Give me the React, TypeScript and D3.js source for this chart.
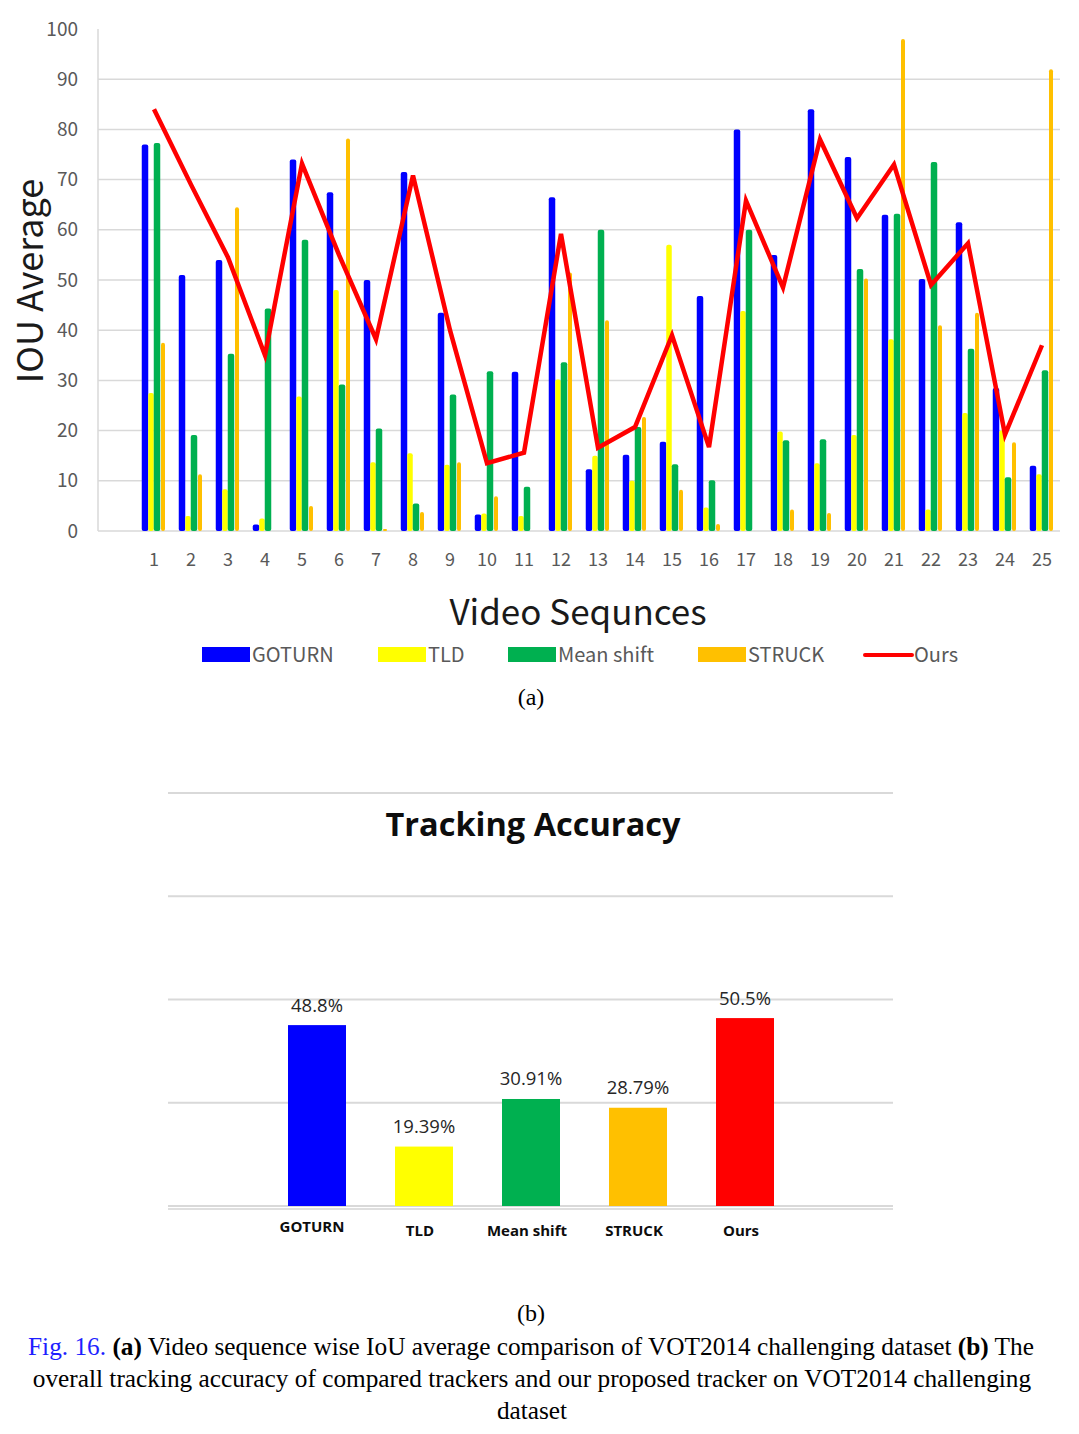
import React from "react";
import * as d3 from "d3";

// (a) IoU average per video sequence
const sequences = ["1", "2", "3", "4", "5", "6", "7", "8", "9", "10", "11", "12", "13", "14", "15", "16", "17", "18", "19", "20", "21", "22", "23", "24", "25"];
const goturn = [77, 51, 54, 1.3, 74, 67.5, 50, 71.5, 43.5, 3.3, 31.7, 66.5, 12.3, 15.2, 17.8, 46.8, 80, 55, 84, 74.5, 63, 50.2, 61.5, 28.5, 13];
const tld = [27.5, 3, 8.3, 2.5, 26.8, 48, 13.7, 15.5, 13.2, 3.5, 3, 30.2, 15, 10, 57, 4.7, 43.8, 19.8, 13.5, 19.1, 38.2, 4.3, 23.5, 20, 11.3];
const meanShift = [77.3, 19.1, 35.3, 44.3, 58, 29.2, 20.4, 5.5, 27.2, 31.8, 8.8, 33.6, 60, 20.7, 13.3, 10.1, 60, 18.1, 18.3, 52.2, 63.2, 73.5, 36.3, 10.7, 32];
const struck = [37.5, 11.3, 64.5, 0, 5, 78.2, 0.4, 3.8, 13.7, 6.9, 0, 51.5, 42, 22.7, 8.2, 1.4, 0, 4.3, 3.6, 50.3, 98, 41, 43.5, 17.7, 92];
const ours = [84, 69, 54.5, 35, 73.2, 55, 38.2, 70.8, 40, 13.5, 15.6, 59.2, 16.6, 20.7, 39, 16.7, 65.8, 48.5, 78, 62.3, 73, 49, 57.3, 19.2, 37];
const yTicks = [0, 10, 20, 30, 40, 50, 60, 70, 80, 90, 100];

// (b) overall tracking accuracy
const trackers = ["GOTURN", "TLD", "Mean shift", "STRUCK", "Ours"];
const accuracy = [48.8, 19.39, 30.91, 28.79, 50.5];
const accuracyLabels = ["48.8%", "19.39%", "30.91%", "28.79%", "50.5%"];
const accuracyGrid = [5, 30, 55, 80, 105];

const barSeries = [
  { name: "GOTURN", values: goturn, color: "#0000ff", width: 6.5 },
  { name: "TLD", values: tld, color: "#ffff00", width: 5.5 },
  { name: "Mean shift", values: meanShift, color: "#00b050", width: 6.5 },
  { name: "STRUCK", values: struck, color: "#ffc000", width: 4 },
];
const trackerColors = ["#0000ff", "#ffff00", "#00b050", "#ffc000", "#ff0000"];

const topFont = "'Noto Sans CJK KR', 'Noto Sans', sans-serif";
const bottomFont = "'Open Sans', 'Noto Sans', sans-serif";
const serif = "'Liberation Serif', 'DejaVu Serif', serif";

const TopChart = () => {
  const x = d3.scaleBand().domain(sequences).range([135.5, 1060.5]);
  const inner = d3.scaleBand().domain(barSeries.map((s) => s.name)).range([-12, 12]);
  const y = d3.scaleLinear().domain([0, 100]).range([531, 29]);
  const cx = (s: string) => (x(s) as number) + x.bandwidth() / 2;

  const line = d3
    .line<number>()
    .x((_, i) => cx(sequences[i]))
    .y((d) => y(d));

  const legend = [
    { label: "GOTURN", color: "#0000ff", x: 202 },
    { label: "TLD", color: "#ffff00", x: 378 },
    { label: "Mean shift", color: "#00b050", x: 508 },
    { label: "STRUCK", color: "#ffc000", x: 698 },
  ];

  return (
    <g>
      {/* grid */}
      {yTicks.filter((t) => t > 0 && t < 100).map((t) => (
        <line key={t} x1={98} x2={1060} y1={y(t)} y2={y(t)} stroke="#d9d9d9" strokeWidth={1.5} />
      ))}
      <line x1={98} x2={98} y1={y(100)} y2={y(0)} stroke="#d9d9d9" strokeWidth={1.5} />
      <line x1={98} x2={1060} y1={y(0)} y2={y(0)} stroke="#d9d9d9" strokeWidth={1.5} />

      {yTicks.map((t) => (
        <text key={t} x={78} y={y(t)} dy="0.35em" textAnchor="end" fontSize={19} fill="#595959" fontFamily={topFont}>
          {t}
        </text>
      ))}
      {sequences.map((s) => (
        <text key={s} x={cx(s)} y={560} dy="0.35em" textAnchor="middle" fontSize={18} fill="#595959" fontFamily={topFont}>
          {s}
        </text>
      ))}

      {/* bars */}
      {barSeries.map((ser) =>
        ser.values.map((v, i) => {
          const s = sequences[i];
          const c = cx(s) + (inner(ser.name) as number) + inner.bandwidth() / 2;
          const h = y(0) - y(v);
          if (h <= 0) return null;
          return (
            <rect
              key={ser.name + s}
              x={c - ser.width / 2}
              y={y(v)}
              width={ser.width}
              height={h}
              rx={Math.min(2, h / 2)}
              fill={ser.color}
            />
          );
        })
      )}

      <path d={line(ours) || ""} fill="none" stroke="#ff0000" strokeWidth={4.5} strokeLinejoin="miter" />

      <text
        transform="translate(30,281) rotate(-90)"
        textAnchor="middle"
        dy="0.35em"
        fontSize={36}
        fill="#1a1a1a"
        fontFamily={topFont}
      >
        IOU Average
      </text>
      <text x={578} y={613} dy="0.35em" textAnchor="middle" fontSize={35} fill="#1a1a1a" fontFamily={topFont}>
        Video Sequnces
      </text>

      {/* legend */}
      {legend.map((l) => (
        <g key={l.label}>
          <rect x={l.x} y={647} width={48} height={15} fill={l.color} />
          <text x={l.x + 50} y={655} dy="0.35em" fontSize={20} fill="#595959" fontFamily={topFont}>
            {l.label}
          </text>
        </g>
      ))}
      <line x1={865} x2={912} y1={655} y2={655} stroke="#ff0000" strokeWidth={4} strokeLinecap="round" />
      <text x={914} y={655} dy="0.35em" fontSize={20} fill="#595959" fontFamily={topFont}>
        Ours
      </text>

      <text x={531} y={697} dy="0.35em" textAnchor="middle" fontSize={24} fill="#000" fontFamily={serif}>
        (a)
      </text>
    </g>
  );
};

const BottomChart = () => {
  const x = d3.scaleBand().domain(trackers).range([263.5, 798.5]).paddingInner(0.458).paddingOuter(0.229);
  const y = d3.scaleLinear().domain([5, 105]).range([1206, 793]);

  return (
    <g>
      {accuracyGrid.map((g) => (
        <line key={g} x1={168} x2={893} y1={y(g)} y2={y(g)} stroke="#d9d9d9" strokeWidth={2} />
      ))}
      <line x1={168} x2={893} y1={y(5) + 3} y2={y(5) + 3} stroke="#bfbfbf" strokeWidth={1} />

      <text x={533} y={825} dy="0.35em" textAnchor="middle" fontSize={32.5} fontWeight="bold" fill="#0d0d0d" fontFamily={bottomFont}>
        Tracking Accuracy
      </text>

      {trackers.map((t, i) => {
        const bx = x(t) as number;
        const c = bx + x.bandwidth() / 2;
        return (
          <g key={t}>
            <rect x={bx} y={y(accuracy[i])} width={x.bandwidth()} height={y(5) - y(accuracy[i])} fill={trackerColors[i]} />
            <text x={c} y={y(accuracy[i]) - 20} dy="0.35em" textAnchor="middle" fontSize={18.5} fill="#262626" fontFamily={bottomFont}>
              {accuracyLabels[i]}
            </text>
            <text
              x={c - (i === 0 ? 5 : 4)}
              y={i === 0 ? 1227 : 1231}
              dy="0.35em"
              textAnchor="middle"
              fontSize={15}
              fontWeight="bold"
              fill="#0d0d0d"
              fontFamily={bottomFont}
            >
              {t}
            </text>
          </g>
        );
      })}

      <text x={531} y={1313} dy="0.35em" textAnchor="middle" fontSize={24} fill="#000" fontFamily={serif}>
        (b)
      </text>
    </g>
  );
};

const Caption = () => (
  <g fontFamily={serif} fontSize={25.3} fill="#000" textAnchor="middle">
    <text x={531} y={1346} dy="0.35em">
      <tspan fill="#1f1fff">Fig. 16.</tspan>
      <tspan fontWeight="bold"> (a)</tspan>
      <tspan> Video sequence wise IoU average comparison of VOT2014 challenging dataset </tspan>
      <tspan fontWeight="bold">(b)</tspan>
      <tspan> The</tspan>
    </text>
    <text x={532} y={1378} dy="0.35em">
      overall tracking accuracy of compared trackers and our proposed tracker on VOT2014 challenging
    </text>
    <text x={532} y={1410} dy="0.35em">
      dataset
    </text>
  </g>
);

export default function App() {
  return (
    <svg width={1079} height={1434} style={{ position: "absolute", left: 0, top: 0, background: "#fff" }}>
      <rect width={1079} height={1434} fill="#fff" />
      <TopChart />
      <BottomChart />
      <Caption />
    </svg>
  );
}
